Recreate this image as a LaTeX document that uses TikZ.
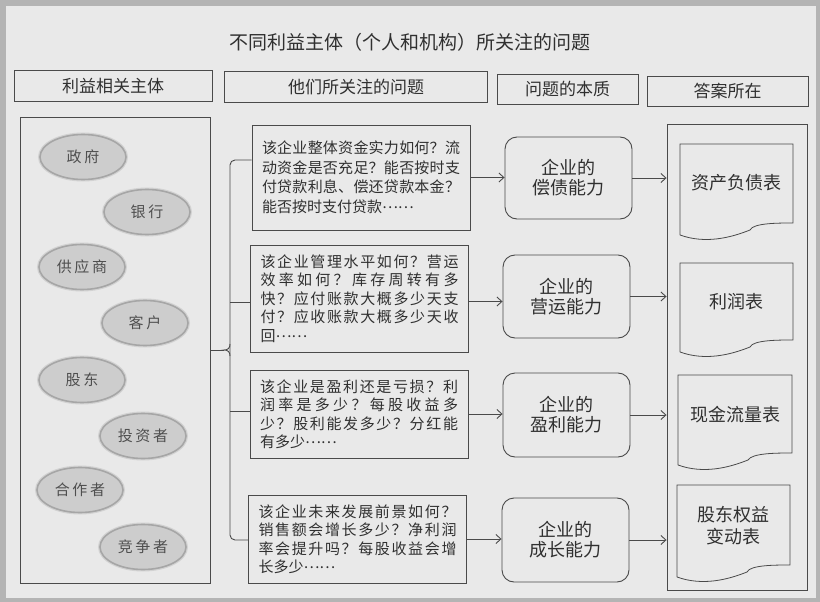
\documentclass[tikz,border=0pt]{standalone}
\usepackage{fontspec}
\setmainfont{Noto Sans CJK SC}
\newfontfamily\cjkls[LetterSpace=18]{Noto Sans CJK SC}
\usetikzlibrary{shapes.geometric,arrows.meta}
\definecolor{bgc}{HTML}{E9E9E9}
\definecolor{edge}{HTML}{B4B4B4}
\definecolor{ln}{HTML}{4A4A4A}
\definecolor{tx}{HTML}{303030}
\definecolor{ellf}{HTML}{CDCDCD}
\newcommand\spl[1]{\makebox[198pt][s]{\splaux#1\relax}}
\def\splaux#1{#1\futurelet\splnext\splcheck}
\def\splcheck{\ifx\splnext\relax\expandafter\splgobble\else\hfil\expandafter\splaux\fi}
\def\splgobble#1{}
\newcommand\dotsx{\raisebox{0.28em}{……}}
\tikzset{
  box/.style={draw=ln, line width=0.9pt, rectangle, inner sep=0pt},
  hdr/.style={box, text=tx, font=\fontsize{17}{20}\selectfont},
  qbox/.style={box, text=tx, align=left, text width=198pt, inner xsep=10pt, inner ysep=0pt},
  nbox/.style={box, rounded corners=12pt, text=tx, align=center, minimum width=127pt, font=\fontsize{18}{20}\selectfont},
  ent/.style={ellipse, draw=gray!70, line width=1.6pt, fill=ellf, minimum width=86pt, minimum height=45pt, text=tx!85, font=\cjkls\fontsize{15}{18}\selectfont},
  halo/.style={ellipse, draw=gray!35, line width=4pt, minimum width=86pt, minimum height=45pt},
  arr/.style={draw=ln, line width=0.9pt, -{Straight Barb[length=5pt,width=9pt]}},
  doclbl/.style={text=tx, align=center, font=\fontsize{18}{22}\selectfont, inner sep=0pt},
  docshape/.style={draw=ln, line width=0.8pt}
}
\begin{document}
\begin{tikzpicture}[x=1pt,y=-1pt]
\useasboundingbox (0,0) rectangle (820,602);
\fill[edge] (0,0) rectangle (820,602);
\fill[bgc] (6,6) rectangle (816,598);

\node[text=tx, font=\fontsize{19}{22}\selectfont] (title) at (410,42) {不同利益主体（个人和机构）所关注的问题};

% headers
\node[hdr, minimum width=198pt, minimum height=31pt] (h1) at (113,86) {利益相关主体};
\node[hdr, minimum width=263pt, minimum height=31pt] (h2) at (356,87) {他们所关注的问题};
\node[hdr, minimum width=141pt, minimum height=30pt] (h3) at (567.5,89) {问题的本质};
\node[hdr, minimum width=161pt, minimum height=30pt] (h4) at (727.5,91) {答案所在};

% left box
\node[box, minimum width=190pt, minimum height=466pt] (lbox) at (115,350) {};
\foreach \x/\y in {83/157,147/212,82/267,145/323,82/380,143/436,80/490,143/547}
  \node[halo] at (\x,\y) {};
\node[ent] (e1) at (83,157) {政府};
\node[ent] (e2) at (147,212) {银行};
\node[ent] (e3) at (82,267) {供应商};
\node[ent] (e4) at (145,323) {客户};
\node[ent] (e5) at (82,380) {股东};
\node[ent] (e6) at (143,436) {投资者};
\node[ent] (e7) at (80,490) {合作者};
\node[ent] (e8) at (143,547) {竞争者};

% question boxes
\node[qbox, minimum height=105pt, font=\fontsize{15}{19.5}\selectfont] (q1) at (361,177.5)
 {\spl{该企业整体资金实力如何？流}\\\spl{动资金是否充足？能否按时支}\\\spl{付贷款利息、偿还贷款本金？}\\能否按时支付贷款\dotsx};
\node[qbox, minimum height=107pt, font=\fontsize{15}{18.5}\selectfont] (q2) at (359.5,298.5)
 {\spl{该企业管理水平如何？营运}\\\spl{效率如何？库存周转有多}\\\spl{快？应付账款大概多少天支}\\\spl{付？应收账款大概多少天收}\\回\dotsx};
\node[qbox, minimum height=88pt, font=\fontsize{15}{18.5}\selectfont] (q3) at (359,414)
 {\spl{该企业是盈利还是亏损？利}\\\spl{润率是多少？每股收益多}\\\spl{少？股利能发多少？分红能}\\有多少\dotsx};
\node[qbox, minimum height=88pt, font=\fontsize{15}{18.5}\selectfont] (q4) at (357.5,539)
 {\spl{该企业未来发展前景如何？}\\\spl{销售额会增长多少？净利润}\\\spl{率会提升吗？每股收益会增}\\长多少\dotsx};

% nature boxes
\node[nbox, minimum height=82pt] (n1) at (568.5,178) {企业的\\偿债能力};
\node[nbox, minimum height=83pt] (n2) at (566.5,296.5) {企业的\\营运能力};
\node[nbox, minimum height=84pt] (n3) at (566.5,415) {企业的\\盈利能力};
\node[nbox, minimum height=84pt] (n4) at (565.5,540) {企业的\\成长能力};

% right box
\node[box, minimum width=140pt, minimum height=466pt] (rbox) at (737,357) {};

% documents
\foreach \l/\r/\t/\b in {680/793/144/235, 680/793/263/352, 678/792/375/465, 677/790/485/577}{
  \draw[docshape] (\l,\b) -- (\l,\t) -- (\r,\t) -- (\r,\b-12)
    .. controls (\r-15,\b-12) and (\r-40,\b-12) .. (\l+70,\b-5)
    .. controls (\l+50,\b+3) and (\l+25,\b+9) .. (\l,\b);
}
\node[doclbl] (d1) at (736.5,183) {资产负债表};
\node[doclbl] (d2) at (736.5,302) {利润表};
\node[doclbl] (d3) at (735,415) {现金流量表};
\node[doclbl] (d4) at (733.5,526) {股东权益\\变动表};

% arrows
\draw[arr] (q1.east) -- (q1.east -| n1.west);
\draw[arr] ([yshift=-3pt]q2.east) -- ([yshift=-3pt]q2.east -| n2.west);
\draw[arr] (q3.east) -- (q3.east -| n3.west);
\draw[arr] (q4.east) -- (q4.east -| n4.west);
\draw[arr] (n1.east) -- (n1.east -| rbox.west);
\draw[arr] (n2.east) -- (n2.east -| rbox.west);
\draw[arr] (n3.east) -- (n3.east -| rbox.west);
\draw[arr] (n4.east) -- (n4.east -| rbox.west);

% bracket
\coordinate (bt) at (230,160);
\coordinate (bb) at (230,540);
\coordinate (b2) at (230,302);
\coordinate (b3) at (230,411);
\coordinate (tip) at (224,350);
\draw[draw=ln, line width=0.9pt, rounded corners=5pt] (bt -| q1.west) -- (bt) -- (bb) -- (bb -| q4.west);
\draw[draw=ln, line width=0.9pt] (b2) -- (b2 -| q2.west);
\draw[draw=ln, line width=0.9pt] (b3) -- (b3 -| q3.west);
\draw[draw=ln, line width=0.9pt] (lbox.east) -- (tip);
\draw[draw=ln, line width=0.9pt] (230,344) .. controls (230,348) and (228,350) .. (tip) .. controls (228,350) and (230,352) .. (230,356);
\end{tikzpicture}
\end{document}
